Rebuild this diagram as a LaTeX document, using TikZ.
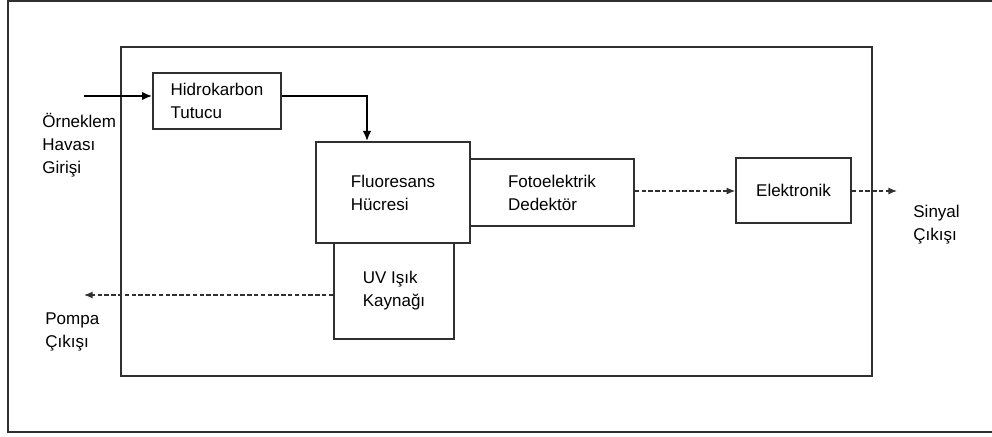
\documentclass[tikz,border=0pt]{standalone}
\usepackage{fontspec}
\setmainfont{Liberation Sans}
\usepackage{tikz}
\usetikzlibrary{arrows.meta,calc,positioning}
\definecolor{cizgi}{HTML}{303030}

\begin{document}
\begin{tikzpicture}[
        x=0.5pt,y=-0.5pt,
        yazi/.style={font=\fontsize{8.5}{11.5}\selectfont},
        blok/.style={yazi,draw=cizgi,line width=0.75pt,inner sep=0pt,align=left},
        etiket/.style={yazi,inner sep=0pt,align=left,anchor=base west},
        akis/.style={-{Latex[length=1.8mm,width=1.5mm]},line width=1pt,black},
        kesik/.style={-{Latex[length=1.5mm,width=1.2mm]},line width=0.6pt,cizgi,
                      dash pattern=on 2.2pt off 1.2pt}
      ]
        \useasboundingbox (0,0) rectangle (992,437);
        % frames
        \draw[line width=1.1pt,cizgi] (996,1) -- (8,1) -- (8,432) -- (996,432);
        \draw[line width=0.6pt,cizgi] (121,47) rectangle (872,376);
        % blocks
        \node[blok,minimum width=64pt,minimum height=28pt] (hc) at (217,101)
          {Hidrokarbon\\Tutucu};
        \node[blok,minimum width=77pt,minimum height=50.5pt] (fh) at (393,192.5)
          {Fluoresans\\Hücresi};
        \node[blok,minimum width=82pt,minimum height=33.5pt] (fd) at (552,192.5)
          {Fotoelektrik\\Dedektör};
        \node[blok,minimum width=60pt,minimum height=48pt] (uv) at (394,291)
          {UV Işık\\Kaynağı};
        \node[blok,minimum width=57.5pt,minimum height=32.5pt] (el) at (793.5,190.5)
          {Elektronik};
        % labels (base = last line)
        \node[etiket] (giristxt) at (42,174) {Örneklem\\Havası\\Girişi};
        \node[etiket] (pompatxt) at (45,348) {Pompa\\Çıkışı};
        \node[etiket] (sinyaltxt) at (913,241) {Sinyal\\Çıkışı};
        % flow
        \coordinate (giris) at (84,96);
        \coordinate (kirilma) at (367,96);
        \coordinate (pompa) at (84,295);
        \coordinate (sinyal) at (897,191);
        \draw[akis] (giris) -- (giris -| hc.west);
        \draw[akis] (hc.east |- kirilma) -| (kirilma |- fh.north);
        \draw[kesik] (fd.east |- sinyal) -- (el.west |- sinyal);
        \draw[kesik] (el.east |- sinyal) -- (sinyal);
        \draw[kesik] (uv.west |- pompa) -- (pompa);
      \end{tikzpicture}
\end{document}
